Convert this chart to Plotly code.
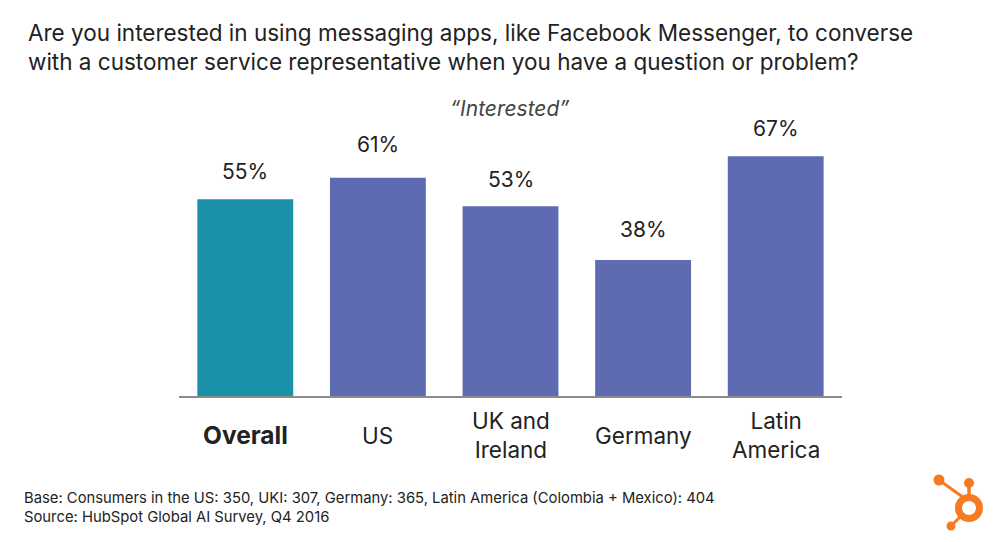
import plotly.graph_objects as go

FONT = "Inter"

# data
categories = ["Overall", "US", "UK and<br>Ireland", "Germany", "Latin<br>America"]
tick_labels = ["<b>Overall</b>", "US", "UK and<br>Ireland", "Germany", "Latin<br>America"]
interested = [55, 61, 53, 38, 67]
bar_colors = ["#1A90A9", "#5E6BB2", "#5E6BB2", "#5E6BB2", "#5E6BB2"]

title_text = ("Are you interested in using messaging apps, like Facebook Messenger, to converse<br>"
              "with a customer service representative when you have a question or problem?")
subtitle_text = "“Interested”"
foot_text = ("Base: Consumers in the US: 350, UKI: 307, Germany: 365, Latin America (Colombia + Mexico): 404<br>"
             "Source: HubSpot Global AI Survey, Q4 2016")

W, H = 1000, 542
ml, mr, mt, mb = 179, 158, 100, 146


# page pixels to paper coordinates
def px(x):
    return (x - ml) / (W - ml - mr)


def py(y):
    return (H - mb - y) / (H - mt - mb)


fig = go.Figure()
fig.add_trace(go.Bar(
    x=categories,
    y=interested,
    marker_color=bar_colors,
    marker_line_width=0,
    width=0.723,
    hoverinfo="skip",
))

annotations = []
# value labels, the gap above the bar differs a little in the original
label_shift = [28, 33, 27, 30, 28]
for cat, val, shift in zip(categories, interested, label_shift):
    annotations.append(dict(x=cat, y=val, xref="x", yref="y", text=f"{val}%", showarrow=False,
                            yanchor="middle", yshift=shift, font=dict(family=FONT, size=21, color="#222222")))
# category labels, centred on one line height
for cat, lab in zip(categories, tick_labels):
    size = 24.5 if lab.startswith("<b>") else 22.5
    annotations.append(dict(x=cat, y=py(435), xref="x", yref="paper", text=lab, showarrow=False,
                            yanchor="middle", align="center", font=dict(family=FONT, size=size, color="#222222")))
annotations.append(dict(x=px(26), y=py(47), xref="paper", yref="paper", xanchor="left", yanchor="middle",
                        align="left", showarrow=False, text=title_text,
                        font=dict(family=FONT, size=22.5, color="#222222")))
annotations.append(dict(x=px(510), y=py(109), xref="paper", yref="paper", showarrow=False,
                        yanchor="middle", text="<i>" + subtitle_text + "</i>",
                        font=dict(family=FONT, size=21, color="#444444")))
annotations.append(dict(x=px(22), y=py(507), xref="paper", yref="paper", xanchor="left", yanchor="middle",
                        align="left", showarrow=False, text=foot_text,
                        font=dict(family=FONT, size=14.8, color="#222222")))

# logo
ORANGE = "#F57B22"


def dot(cx, cy, r):
    return dict(type="circle", xref="paper", yref="paper", x0=px(cx - r), x1=px(cx + r),
                y0=py(cy + r), y1=py(cy - r), fillcolor=ORANGE, line_width=0)


def spoke(x0, y0, x1, y1, w):
    return dict(type="line", xref="paper", yref="paper", x0=px(x0), y0=py(y0), x1=px(x1), y1=py(y1),
                line=dict(color=ORANGE, width=w))


shapes = [
    spoke(939, 480, 964, 498, 3),
    spoke(969, 483, 969, 498, 3.5),
    spoke(951, 526, 962, 515, 3),
    dot(939, 480, 5.5),
    dot(969, 483, 5),
    dot(951, 526, 4.5),
    dict(type="circle", xref="paper", yref="paper", x0=px(958.5), x1=px(979.5), y0=py(518.5), y1=py(497.5),
         fillcolor="rgba(0,0,0,0)", line=dict(color=ORANGE, width=7)),
]

fig.update_layout(
    width=W,
    height=H,
    margin=dict(l=ml, r=mr, t=mt, b=mb),
    paper_bgcolor="white",
    plot_bgcolor="white",
    showlegend=False,
    xaxis=dict(
        type="category",
        range=[-0.5, 4.5],
        showgrid=False,
        showticklabels=False,
        ticks="",
        showline=True,
        linecolor="#8A8A8A",
        linewidth=1.5,
        zeroline=False,
        fixedrange=True,
    ),
    yaxis=dict(range=[0, 82.7], visible=False, fixedrange=True),
    annotations=annotations,
    shapes=shapes,
)

# page margin off so the figure sits at 0,0
fig.write_html("out.html", config=dict(displayModeBar=False),
               post_script="document.body.style.margin='0';")
